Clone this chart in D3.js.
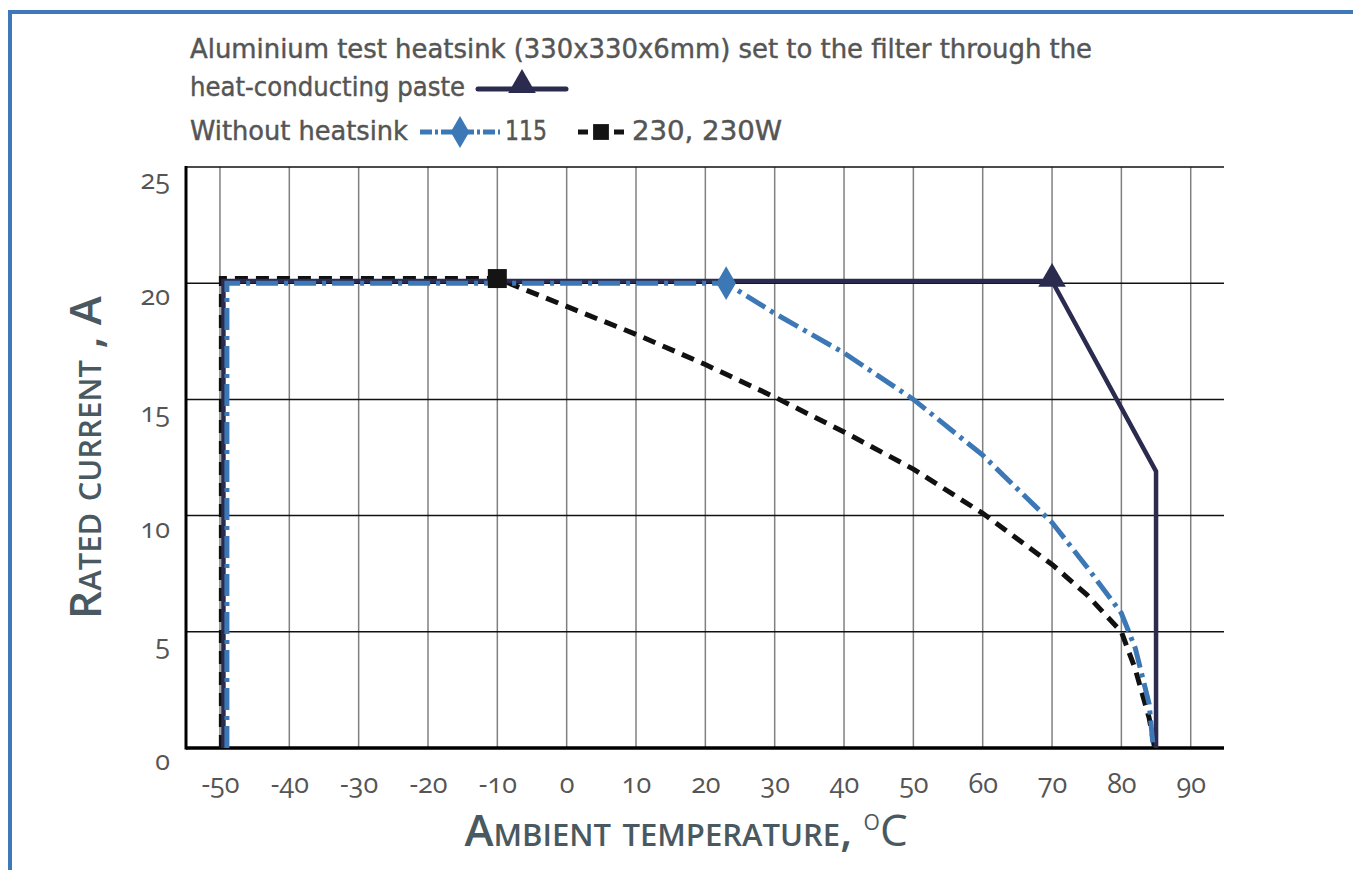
<!DOCTYPE html>
<html>
<head>
<meta charset="utf-8">
<script src="https://cdn.jsdelivr.net/npm/d3@7"></script>
<style>
  body { margin: 0; background: #fff; }
  .tick text { font-family: "Open Sans", sans-serif; font-variant-numeric: oldstyle-nums; }
</style>
</head>
<body>
<svg id="chart"></svg>
<script>
// data
const xTicks = [-50, -40, -30, -20, -10, 0, 10, 20, 30, 40, 50, 60, 70, 80, 90];
const yTicks = [0, 5, 10, 15, 20, 25];

const heatsinkT = [-49.5, -49.5, 70, 85, 85];
const heatsinkI = [0, 20.1, 20.1, 11.9, 0];

const s115T = [-49, -49, 23, 30, 40, 50, 60, 70, 75, 80, 82, 84, 84.6];
const s115I = [0, 20, 20, 18.7, 17.0, 15.0, 12.6, 9.7, 7.8, 5.8, 4.3, 1.9, 0];

const s230T = [-49.8, -49.8, -10, 0, 10, 20, 30, 40, 50, 60, 70, 75, 80, 82, 84, 84.8];
const s230I = [0, 20.2, 20.2, 19.0, 17.8, 16.5, 15.1, 13.6, 12.0, 10.1, 7.9, 6.6, 5.0, 3.4, 1.3, 0];

const W = 1353, H = 870;
const svg = d3.select("#chart").attr("width", W).attr("height", H);

// blue frame
svg.append("path")
  .attr("d", `M10,${H} L10,12 L${W},12`)
  .attr("fill", "none").attr("stroke", "#3f79b9").attr("stroke-width", 4);

const plot = {left: 186, right: 1224, top: 167, bottom: 748};
const x = d3.scaleLinear().domain([-54.9, 94.8]).range([plot.left, plot.right]);
const y = d3.scaleLinear().domain([0, 25]).range([plot.bottom, plot.top]);

// grid
svg.append("g").selectAll("line").data(xTicks).join("line")
  .attr("x1", d => x(d)).attr("x2", d => x(d))
  .attr("y1", plot.top).attr("y2", plot.bottom)
  .attr("stroke", "#808080").attr("stroke-width", 1.5);
svg.append("g").selectAll("line").data(yTicks.filter(d => d > 0)).join("line")
  .attr("x1", plot.left).attr("x2", plot.right)
  .attr("y1", d => y(d)).attr("y2", d => y(d))
  .attr("stroke", "#111").attr("stroke-width", 1.5);

// axes (hyphen minus like the original)
const fmt = d => String(d);
const xAxis = d3.axisBottom(x).tickValues(xTicks).tickSize(0).tickPadding(26).tickFormat(fmt);
const gx = svg.append("g").attr("transform", `translate(0,${plot.bottom})`).call(xAxis);
gx.select(".domain").remove();
gx.selectAll("text").attr("font-size", 27).attr("fill", "#555");

const yAxis = d3.axisLeft(y).tickValues(yTicks).tickSize(0).tickPadding(16).tickFormat(fmt);
const gy = svg.append("g").attr("transform", `translate(${plot.left},0)`).call(yAxis);
gy.select(".domain").remove();
gy.selectAll("text").attr("font-size", 27).attr("fill", "#555").attr("dy", "0.8em");

svg.append("line").attr("x1", plot.left).attr("x2", plot.left)
  .attr("y1", plot.top - 1).attr("y2", plot.bottom + 1.5)
  .attr("stroke", "#000").attr("stroke-width", 3);
svg.append("line").attr("x1", plot.left).attr("x2", plot.right)
  .attr("y1", plot.bottom).attr("y2", plot.bottom)
  .attr("stroke", "#000").attr("stroke-width", 3.5);

// series
const line = d3.line().x(d => x(d[0])).y(d => y(d[1]));

svg.append("path").datum(d3.zip(s230T, s230I))
  .attr("d", line)
  .attr("fill", "none").attr("stroke", "#111").attr("stroke-width", 5)
  .attr("stroke-dasharray", "13 8");

svg.append("path").datum(d3.zip(heatsinkT, heatsinkI))
  .attr("d", line)
  .attr("fill", "none").attr("stroke", "#2b2b4f").attr("stroke-width", 4.5);

svg.append("path").datum(d3.zip(s115T, s115I))
  .attr("d", line)
  .attr("fill", "none").attr("stroke", "#3d78b6").attr("stroke-width", 5)
  .attr("stroke-dasharray", "22 6 4 6");

// markers
const sym = (type, size) => d3.symbol().type(type).size(size)();
svg.append("path").attr("d", sym(d3.symbolSquare, 360))
  .attr("transform", `translate(${x(s230T[2])},${y(s230I[2])})`).attr("fill", "#141414");
svg.append("path").attr("d", sym(d3.symbolDiamond, 330))
  .attr("transform", `translate(${x(s115T[2])},${y(s115I[2])})`).attr("fill", "#3d78b6");
svg.append("path").attr("d", sym(d3.symbolTriangle, 330))
  .attr("transform", `translate(${x(heatsinkT[2])},${y(heatsinkI[2]) - 2})`).attr("fill", "#2b2b4f");

// axis titles
svg.append("text")
  .attr("transform", `translate(101,${(plot.top + plot.bottom) / 2}) rotate(-90)`)
  .attr("text-anchor", "middle")
  .attr("font-family", "Open Sans, sans-serif").attr("font-weight", 600)
  .attr("font-size", 44).attr("fill", "#4a595f")
  .style("font-variant", "small-caps")
  .text("Rated current , A");

const xt = svg.append("text")
  .attr("x", 686).attr("y", 846)
  .attr("text-anchor", "middle")
  .attr("font-family", "Open Sans, sans-serif").attr("font-weight", 600)
  .attr("font-size", 44).attr("fill", "#4a595f")
  .style("font-variant", "small-caps");
xt.append("tspan").text("Ambient temperature, ");
xt.append("tspan").attr("font-weight", 400).attr("font-size", 30).attr("dy", -16).text("o");
xt.append("tspan").attr("font-weight", 400).attr("dy", 16).text("C");

// legend
const lf = "DejaVu Sans Condensed, Liberation Sans Narrow, sans-serif";
const leg = svg.append("g").attr("font-family", lf).attr("font-size", 26).attr("fill", "#555")
  .attr("stroke", "#555").attr("stroke-width", 0.4);
leg.append("text").attr("x", 190).attr("y", 58).attr("textLength", 902).attr("lengthAdjust", "spacingAndGlyphs")
  .text("Aluminium test heatsink (330x330x6mm) set to the filter through the");
leg.append("text").attr("x", 190).attr("y", 96).attr("textLength", 275).attr("lengthAdjust", "spacingAndGlyphs")
  .text("heat-conducting paste");
leg.append("text").attr("x", 190).attr("y", 140).attr("textLength", 218).attr("lengthAdjust", "spacingAndGlyphs")
  .text("Without heatsink");
leg.append("text").attr("x", 505).attr("y", 140).attr("textLength", 42).attr("lengthAdjust", "spacingAndGlyphs").text("115");
leg.append("text").attr("x", 632).attr("y", 140).attr("textLength", 150).attr("lengthAdjust", "spacingAndGlyphs").text("230, 230W");

const lm = svg.append("g");
lm.append("line").attr("x1", 478).attr("x2", 566).attr("y1", 89).attr("y2", 89)
  .attr("stroke", "#2b2b4f").attr("stroke-width", 5).attr("stroke-linecap", "round");
lm.append("path").attr("d", sym(d3.symbolTriangle, 330))
  .attr("transform", "translate(522,85)").attr("fill", "#2b2b4f");

lm.append("line").attr("x1", 420).attr("x2", 500).attr("y1", 132).attr("y2", 132)
  .attr("stroke", "#3d78b6").attr("stroke-width", 5).attr("stroke-dasharray", "12 3 3 3");
lm.append("path").attr("d", sym(d3.symbolDiamond, 300))
  .attr("transform", "translate(460,132)").attr("fill", "#3d78b6");

lm.append("line").attr("x1", 578).attr("x2", 624).attr("y1", 132).attr("y2", 132)
  .attr("stroke", "#141414").attr("stroke-width", 5).attr("stroke-dasharray", "10 8");
lm.append("path").attr("d", sym(d3.symbolSquare, 250))
  .attr("transform", "translate(601,132)").attr("fill", "#141414");
</script>
</body>
</html>
